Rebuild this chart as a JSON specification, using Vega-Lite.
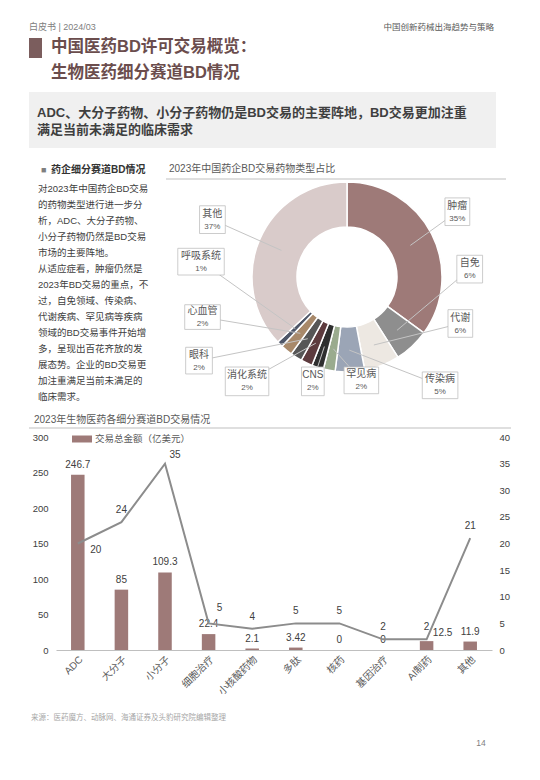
{
  "$schema": "https://vega.github.io/schema/vega-lite/v6.json",
  "padding": {"left": 28, "top": 0, "right": 0, "bottom": 0},
  "background": "white",
  "bounds": "full",
  "spacing": 0,
  "config": {
    "view": {"stroke": null},
    "font": "Liberation Sans, Noto Sans CJK SC",
    "title": {"font": "Liberation Sans, Noto Sans CJK SC"}
  },
  "vconcat": [
    {
      "width": 467, "height": 38,
      "data": {"values": [{"l": "白皮书 | 2024/03", "r": "中国创新药械出海趋势与策略"}]},
      "layer": [
        {"mark": {"type": "text", "align": "left", "baseline": "alphabetic", "fontSize": 9, "color": "#808080", "dy": -8},
         "encoding": {"text": {"field": "l"}, "x": {"value": 0}, "y": {"value": "height"}}},
        {"mark": {"type": "text", "align": "right", "baseline": "alphabetic", "fontSize": 8.5, "color": "#595959", "dy": -8, "dx": -2},
         "encoding": {"text": {"field": "r"}, "x": {"value": "width"}, "y": {"value": "height"}}}
      ]
    },
    {
      "hconcat": [
        {"width": 13, "height": 20, "view": {"fill": "#7b5d5d", "stroke": null}, "data": {"values": []}, "mark": "point"},
        {
          "width": 445, "height": 54,
          "data": {"values": [{"t": "中国医药BD许可交易概览：\n生物医药细分赛道BD情况"}]},
          "mark": {"type": "text", "align": "left", "baseline": "top", "lineBreak": "\n", "lineHeight": 26, "fontSize": 16.5, "fontWeight": "bold", "color": "#6b4d4d", "dy": 1},
          "encoding": {"text": {"field": "t"}, "x": {"value": 0}, "y": {"value": 0}}
        }
      ],
      "spacing": 9,
      "bounds": "flush"
    },
    {
      "width": 467, "height": 56,
      "view": {"fill": "#f0f0f0", "stroke": null},
      "data": {"values": [{"t": "ADC、大分子药物、小分子药物仍是BD交易的主要阵地，BD交易更加注重\n满足当前未满足的临床需求"}]},
      "mark": {"type": "text", "align": "left", "baseline": "top", "lineBreak": "\n", "lineHeight": 17, "fontSize": 13, "fontWeight": "bold", "color": "#3f3f3f", "dx": 8, "dy": 15},
      "encoding": {"text": {"field": "t"}, "x": {"value": 0}, "y": {"value": 0}}
    },
    {"width": 1, "height": 12, "data": {"values": []}, "mark": "point"},
    {
      "hconcat": [
        {
          "width": 137, "height": 252,
          "data": {"values": [{"sq": "■", "h": "药企细分赛道BD情况", "t": "对2023年中国药企BD交易\n的药物类型进行进一步分\n析，ADC、大分子药物、\n小分子药物仍然是BD交易\n市场的主要阵地。\n从适应症看，肿瘤仍然是\n2023年BD交易的重点，不\n过，自免领域、传染病、\n代谢疾病、罕见病等疾病\n领域的BD交易事件开始增\n多，呈现出百花齐放的发\n展态势。企业的BD交易更\n加注重满足当前未满足的\n临床需求。"}]},
          "layer": [
            {"mark": {"type": "text", "align": "left", "baseline": "middle", "fontSize": 9, "color": "#7f7f7f", "dx": 12, "dy": 10},
             "encoding": {"text": {"field": "sq"}, "x": {"value": 0}, "y": {"value": 0}}},
            {"mark": {"type": "text", "align": "left", "baseline": "middle", "fontSize": 10, "fontWeight": "bold", "color": "#333333", "dx": 22, "dy": 10},
             "encoding": {"text": {"field": "h"}, "x": {"value": 0}, "y": {"value": 0}}},
            {"mark": {"type": "text", "align": "left", "baseline": "top", "lineBreak": "\n", "lineHeight": 16, "fontSize": 9.5, "letterSpacing": 1.2, "color": "#404040", "dx": 9, "dy": 24},
             "encoding": {"text": {"field": "t"}, "x": {"value": 0}, "y": {"value": 0}}}
          ]
        },
        {
          "vconcat": [
            {
              "width": 340, "height": 19,
              "data": {"values": [{"t": "2023年中国药企BD交易药物类型占比"}]},
              "layer": [
                {"mark": {"type": "text", "align": "left", "baseline": "middle", "fontSize": 10, "color": "#595959", "dx": 3, "dy": 9},
                 "encoding": {"text": {"field": "t"}, "x": {"value": 0}, "y": {"value": 0}}},
                {"mark": {"type": "rule", "color": "#bfbfbf", "strokeWidth": 1},
                 "encoding": {"x": {"value": 0}, "x2": {"value": "width"}, "y": {"value": "height"}}}
              ]
            },
            {
              "width": 362, "height": 196,
              "data": {"values": [
                {"type": "肿瘤", "share": 0.35, "rank": 1, "bx1": 1.031, "bx2": 1.292, "by1": 0.542, "by2": 0.833, "cx": 1.161, "cy": 0.688, "px": 0.667, "py": 0.333},
                {"type": "自免", "share": 0.06, "rank": 2, "bx1": 1.156, "bx2": 1.427, "by1": -0.063, "by2": 0.229, "cx": 1.292, "cy": 0.083, "px": 0.527, "py": -0.561},
                {"type": "代谢", "share": 0.06, "rank": 3, "bx1": 1.063, "bx2": 1.323, "by1": -0.635, "by2": -0.344, "cx": 1.193, "cy": -0.49, "px": 0.283, "py": -0.716},
                {"type": "传染病", "share": 0.05, "rank": 4, "bx1": 0.792, "bx2": 1.167, "by1": -1.281, "by2": -1.0, "cx": 0.979, "cy": -1.141, "px": 0.024, "py": -0.77},
                {"type": "罕见病", "share": 0.02, "rank": 5, "bx1": -0.031, "bx2": 0.333, "by1": -1.229, "by2": -0.948, "cx": 0.151, "cy": -1.089, "px": -0.144, "py": -0.756},
                {"type": "CNS", "share": 0.02, "rank": 6, "bx1": -0.479, "bx2": -0.24, "by1": -1.25, "by2": -0.948, "cx": -0.359, "cy": -1.099, "px": -0.238, "py": -0.732},
                {"type": "消化系统", "share": 0.02, "rank": 7, "bx1": -1.281, "bx2": -0.823, "by1": -1.25, "by2": -0.948, "cx": -1.052, "cy": -1.099, "px": -0.328, "py": -0.697},
                {"type": "眼科", "share": 0.02, "rank": 8, "bx1": -1.698, "bx2": -1.417, "by1": -1.021, "by2": -0.74, "cx": -1.557, "cy": -0.88, "px": -0.413, "py": -0.65},
                {"type": "心血管", "share": 0.02, "rank": 9, "bx1": -1.708, "bx2": -1.333, "by1": -0.552, "by2": -0.292, "cx": -1.521, "cy": -0.422, "px": -0.491, "py": -0.593},
                {"type": "呼吸系统", "share": 0.01, "rank": 10, "bx1": -1.781, "bx2": -1.292, "by1": 0.021, "by2": 0.302, "cx": -1.536, "cy": 0.161, "px": -0.544, "py": -0.544},
                {"type": "其他", "share": 0.37, "rank": 11, "bx1": -1.552, "bx2": -1.281, "by1": 0.458, "by2": 0.75, "cx": -1.417, "cy": 0.604, "px": -0.69, "py": 0.28}
              ]},
              "layer": [
                {
                  "mark": {"type": "arc", "outerRadius": 95, "innerRadius": 50, "stroke": "white", "strokeWidth": 1.5},
                  "encoding": {
                    "theta": {"field": "share", "type": "quantitative", "stack": true},
                    "order": {"field": "rank", "type": "quantitative"},
                    "color": {"field": "type", "type": "nominal", "legend": null,
                      "scale": {"domain": ["肿瘤", "自免", "代谢", "传染病", "罕见病", "CNS", "消化系统", "眼科", "心血管", "呼吸系统", "其他"],
                                "range": ["#9e7a78", "#8e8e8e", "#ede8e2", "#9ba5b6", "#9aab8e", "#2f2f2f", "#5d3b3e", "#565656", "#a8896a", "#4e5668", "#d9cbca"]}}
                  }
                },
                {
                  "mark": {"type": "rule", "color": "#c4c4c4", "strokeWidth": 1},
                  "encoding": {
                    "x": {"field": "cx", "type": "quantitative", "scale": {"domain": [-1.905, 1.905], "nice": false, "zero": false}, "axis": null},
                    "y": {"field": "cy", "type": "quantitative", "scale": {"domain": [-1.032, 1.032], "nice": false, "zero": false}, "axis": null},
                    "x2": {"field": "px"},
                    "y2": {"field": "py"}
                  }
                },
                {
                  "mark": {"type": "rect", "fill": "white", "stroke": "#bfbfbf", "strokeWidth": 0.8},
                  "encoding": {
                    "x": {"field": "bx1", "type": "quantitative", "axis": null},
                    "x2": {"field": "bx2"},
                    "y": {"field": "by1", "type": "quantitative", "axis": null},
                    "y2": {"field": "by2"}
                  }
                },
                {
                  "mark": {"type": "text", "fontSize": 10, "color": "#595959", "dy": -6},
                  "encoding": {
                    "x": {"field": "cx", "type": "quantitative", "axis": null},
                    "y": {"field": "cy", "type": "quantitative", "axis": null},
                    "text": {"field": "type"}
                  }
                },
                {
                  "mark": {"type": "text", "fontSize": 8, "color": "#595959", "dy": 7},
                  "encoding": {
                    "x": {"field": "cx", "type": "quantitative", "axis": null},
                    "y": {"field": "cy", "type": "quantitative", "axis": null},
                    "text": {"field": "share", "type": "quantitative", "format": ".0%"}
                  }
                }
              ]
            }
          ],
          "spacing": 0,
          "bounds": "flush"
        }
      ],
      "spacing": 0,
      "bounds": "flush"
    },
    {
      "vconcat": [
        {
          "width": 482, "height": 16,
          "data": {"values": [{"t": "2023年生物医药各细分赛道BD交易情况"}]},
          "layer": [
            {"mark": {"type": "text", "align": "left", "baseline": "middle", "fontSize": 10, "color": "#595959", "dx": 5, "dy": 8},
             "encoding": {"text": {"field": "t"}, "x": {"value": 0}, "y": {"value": 0}}},
            {"mark": {"type": "rule", "color": "#bfbfbf", "strokeWidth": 1},
             "encoding": {"x": {"value": 0}, "x2": {"value": "width"}, "y": {"value": "height"}}}
          ]
        },
        {
          "hconcat": [
            {"width": 27, "height": 1, "data": {"values": []}, "mark": "point"},
            {
              "width": 436, "height": 213,
              "data": {"values": [
                {"cat": "ADC", "series": "交易总金额（亿美元）", "amount": 246.7, "deals": 20},
                {"cat": "大分子", "series": "交易总金额（亿美元）", "amount": 85, "deals": 24},
                {"cat": "小分子", "series": "交易总金额（亿美元）", "amount": 109.3, "deals": 35},
                {"cat": "细胞治疗", "series": "交易总金额（亿美元）", "amount": 22.4, "deals": 5},
                {"cat": "小核酸药物", "series": "交易总金额（亿美元）", "amount": 2.1, "deals": 4},
                {"cat": "多肽", "series": "交易总金额（亿美元）", "amount": 3.42, "deals": 5},
                {"cat": "核药", "series": "交易总金额（亿美元）", "amount": 0, "deals": 5},
                {"cat": "基因治疗", "series": "交易总金额（亿美元）", "amount": 0, "deals": 2},
                {"cat": "AI制药", "series": "交易总金额（亿美元）", "amount": 12.5, "deals": 2},
                {"cat": "其他", "series": "交易总金额（亿美元）", "amount": 11.9, "deals": 21}
              ]},
              "encoding": {
                "x": {"field": "cat", "type": "nominal", "sort": null,
                  "scale": {"paddingInner": 0.69, "paddingOuter": 0.345},
                  "axis": {"title": null, "labelAngle": -45, "labelAlign": "right", "labelBaseline": "top", "labelFontSize": 10, "labelColor": "#595959", "ticks": false, "domainColor": "#bfbfbf", "labelPadding": 4}}
              },
              "layer": [
                {
                  "encoding": {
                    "y": {"field": "amount", "type": "quantitative", "scale": {"domain": [0, 300]},
                      "axis": {"orient": "left", "title": null, "values": [0, 50, 100, 150, 200, 250, 300], "grid": false, "domain": false, "ticks": false, "labelPadding": 8, "labelFontSize": 9.5, "labelColor": "#404040"}}
                  },
                  "layer": [
                    {
                      "mark": {"type": "bar", "color": "#9e7a78"},
                      "encoding": {
                        "fill": {"field": "series", "type": "nominal", "scale": {"range": ["#9e7a78"]},
                          "legend": {"title": null, "orient": "none", "legendX": 42, "legendY": 428, "padding": 0, "symbolType": "M-1,-0.35L1,-0.35L1,0.35L-1,0.35Z", "symbolSize": 400, "labelFontSize": 9.5, "labelColor": "#595959", "labelOffset": 2}}
                      }
                    },
                    {
                      "transform": [{"filter": "datum.cat !== 'AI制药'"}],
                      "mark": {"type": "text", "baseline": "middle", "dy": -10, "fontSize": 10, "color": "#404040"},
                      "encoding": {"text": {"field": "amount", "type": "quantitative"}}
                    },
                    {
                      "transform": [{"filter": "datum.cat === 'AI制药'"}],
                      "mark": {"type": "text", "baseline": "middle", "dy": -8, "dx": 16, "fontSize": 10, "color": "#404040"},
                      "encoding": {"text": {"field": "amount", "type": "quantitative"}}
                    }
                  ]
                },
                {
                  "encoding": {
                    "y": {"field": "deals", "type": "quantitative", "scale": {"domain": [0, 40]},
                      "axis": {"orient": "right", "title": null, "values": [0, 5, 10, 15, 20, 25, 30, 35, 40], "grid": false, "domain": false, "ticks": false, "labelPadding": 7, "labelFontSize": 9.5, "labelColor": "#404040"}}
                  },
                  "layer": [
                    {"mark": {"type": "line", "color": "#8c8c8c", "strokeWidth": 2}, "encoding": {}},
                    {
                      "transform": [{"filter": "datum.cat !== 'ADC' && datum.cat !== '小分子' && datum.cat !== '细胞治疗'"}],
                      "mark": {"type": "text", "baseline": "middle", "dy": -12, "fontSize": 10, "color": "#404040"},
                      "encoding": {"text": {"field": "deals", "type": "quantitative"}}
                    },
                    {
                      "transform": [{"filter": "datum.cat === 'ADC'"}],
                      "mark": {"type": "text", "baseline": "middle", "dx": 18, "dy": 6, "fontSize": 10, "color": "#404040"},
                      "encoding": {"text": {"field": "deals", "type": "quantitative"}}
                    },
                    {
                      "transform": [{"filter": "datum.cat === '小分子'"}],
                      "mark": {"type": "text", "baseline": "middle", "dx": 10, "dy": -9, "fontSize": 10, "color": "#404040"},
                      "encoding": {"text": {"field": "deals", "type": "quantitative"}}
                    },
                    {
                      "transform": [{"filter": "datum.cat === '细胞治疗'"}],
                      "mark": {"type": "text", "baseline": "middle", "dx": 11, "dy": -15, "fontSize": 10, "color": "#404040"},
                      "encoding": {"text": {"field": "deals", "type": "quantitative"}}
                    }
                  ]
                }
              ],
              "resolve": {"scale": {"y": "independent"}}
            }
          ],
          "spacing": 0,
          "bounds": "flush"
        }
      ],
      "spacing": 9,
      "bounds": "flush"
    },
    {"width": 1, "height": 17, "data": {"values": []}, "mark": "point"},
    {
      "width": 467, "height": 34,
      "data": {"values": [{"src": "来源：医药魔方、动脉网、海通证券及头豹研究院编辑整理", "page": "14"}]},
      "layer": [
        {"mark": {"type": "text", "align": "left", "baseline": "top", "fontSize": 7.5, "color": "#a6a6a6", "dx": 2},
         "encoding": {"text": {"field": "src"}, "x": {"value": 0}, "y": {"value": 0}}},
        {"mark": {"type": "text", "align": "center", "baseline": "bottom", "fontSize": 8.5, "color": "#808080", "dx": -15},
         "encoding": {"text": {"field": "page"}, "x": {"value": "width"}, "y": {"value": "height"}}}
      ]
    }
  ]
}
